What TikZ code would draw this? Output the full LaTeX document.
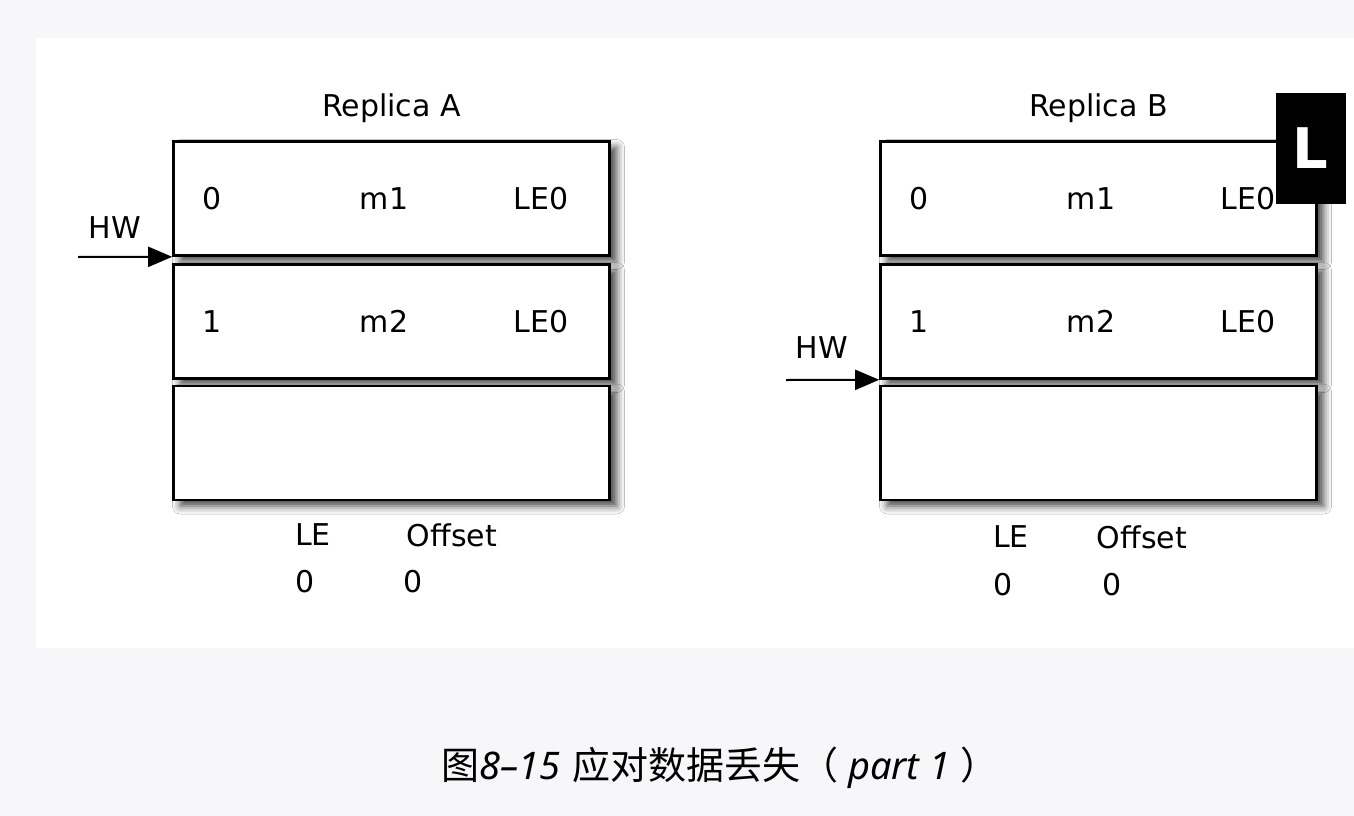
\documentclass[tikz,border=0pt]{standalone}
\usepackage{fontspec}
\usepackage{tikz}
\usetikzlibrary{positioning,arrows.meta,shadows.blur}
\newfontfamily\uifont{DejaVu Sans}
\newfontfamily\cjkfont{Noto Sans CJK SC}
\newfontfamily\capfont{Noto Sans}
\definecolor{pagegray}{RGB}{247,247,249}

\begin{document}
\begin{tikzpicture}[x=1pt, y=-1pt,
    slot/.style={draw, line width=2.6pt, fill=white, inner sep=0pt,
                 minimum width=436pt, minimum height=114pt,
                 blur shadow={shadow xshift=7pt, shadow yshift=-6pt,
                              shadow blur radius=8pt, shadow opacity=75}},
    cell/.style={font=\uifont\fontsize{30}{35}\selectfont, inner sep=0pt},
    hwarrow/.style={line width=2pt, -{Triangle[length=24pt, width=20pt]}},
    badge/.style={fill=black, text=white, inner sep=0pt,
                  minimum width=70pt, minimum height=111pt,
                  font=\uifont\bfseries\fontsize{56}{60}\selectfont}
  ]
    % page and panel
    \useasboundingbox (0,0) rectangle (1354,816);
    \fill[pagegray] (0,0) rectangle (1354,816);
    \fill[white] (36,38) rectangle (1354,648);

    % the two replicas
    \foreach \rep/\cx in {A/391.5, B/1098.5} {
      \node[cell] (title\rep) at (\cx,108) {Replica \rep};
      \node[slot] (rep\rep1) at (\cx,198.5) {};
      \node[slot] (rep\rep2) at (\cx,321.5) {};
      \node[slot] (rep\rep3) at (\cx,443) {};
      \node[cell] (off\rep1) at ([xshift=-179.5pt]rep\rep1.center) {0};
      \node[cell] (msg\rep1) at ([xshift=-7.5pt]rep\rep1.center) {m1};
      \node[cell] (le\rep1)  at ([xshift=149.5pt]rep\rep1.center) {LE0};
      \node[cell] (off\rep2) at ([xshift=-179.5pt]rep\rep2.center) {1};
      \node[cell] (msg\rep2) at ([xshift=-7.5pt]rep\rep2.center) {m2};
      \node[cell] (le\rep2)  at ([xshift=149.5pt]rep\rep2.center) {LE0};
    }

    % high watermarks
    \node[cell] (hwlabelA) at (115,228) {HW};
    \coordinate (hwstartA) at (78,257);
    \draw[hwarrow] (hwstartA) -- (repA1.south west);
    \node[cell] (hwlabelB) at (822,348) {HW};
    \coordinate (hwstartB) at (786,380);
    \draw[hwarrow] (hwstartB) -- (repB2.south west);

    % leader epoch cache
    \node[cell] (lekeyA)  at (313,535) {LE};
    \node[cell] (offkeyA) at (452,535) {Offset};
    \node[cell] (levalA)  at (305,582) {0};
    \node[cell] (offvalA) at (413,582) {0};
    \node[cell] (lekeyB)  at (1011,537) {LE};
    \node[cell] (offkeyB) at (1142,537) {Offset};
    \node[cell] (levalB)  at (1003,585) {0};
    \node[cell] (offvalB) at (1112,585) {0};

    % leader mark
    \node[badge] (leader) at (1310.5,148) {L};

    % caption
    \node[inner sep=0pt, font=\fontsize{38}{44}\selectfont] (caption) at (720,768)
      {{\cjkfont 图}{\capfont\itshape 8–15} {\cjkfont 应对数据丢失（}{\capfont\itshape\ part 1\ }{\cjkfont ）}};
  \end{tikzpicture}
\end{document}
